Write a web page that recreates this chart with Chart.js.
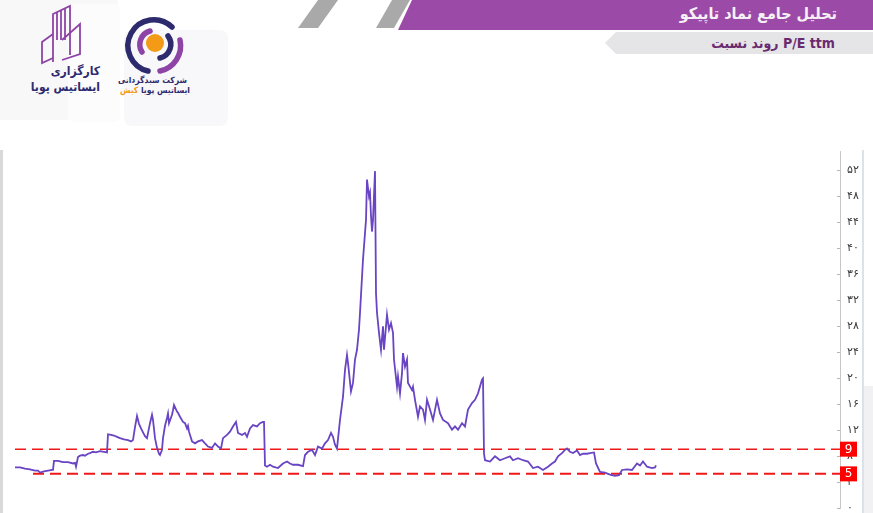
<!DOCTYPE html>
<html lang="fa">
<head>
<meta charset="utf-8">
<title>P/E ttm</title>
<script src="https://cdn.jsdelivr.net/npm/chart.js@4.4.1/dist/chart.umd.min.js"></script>
<style>
  html, body { margin: 0; padding: 0; background: #fff; }
  body {
    width: 873px; height: 513px; overflow: hidden; position: relative;
    font-family: "DejaVu Sans", sans-serif;
  }
  #chartBox { position: absolute; left: 0; top: 0; width: 873px; height: 530px; }
  .layer { position: absolute; left: 0; top: 0; }
  .head { position: absolute; white-space: nowrap; font-weight: bold; font-family: "DejaVu Sans Condensed", "DejaVu Sans", sans-serif; }
  #title { right: 36px; top: 4px; font-size: 16px; color: #f6f0f7; direction: rtl; }
  #subtitle { right: 38px; top: 35px; font-size: 14px; color: #6a2a70; direction: ltr; }
  .logoText { position: absolute; direction: rtl; white-space: nowrap; font-weight: bold; color: #2d2b6e; font-family: "DejaVu Sans Condensed", "DejaVu Sans", sans-serif; }
</style>
</head>
<body>

<!-- background cards + header shapes -->
<svg class="layer" width="873" height="513">
  <rect x="-10" y="-10" width="128" height="130" rx="8" fill="#f8f8f9"/>
  <rect x="68" y="4" width="52" height="118" rx="6" fill="#fcfcfd"/>
  <rect x="124" y="30" width="104" height="96" rx="8" fill="#f8f8fa"/>
  <rect x="0" y="150" width="3" height="363" fill="#d9d9d9"/>
  <rect x="862" y="150" width="2" height="363" fill="#dde2ea"/>
  <rect x="864" y="386" width="9" height="127" fill="#f1f1f3"/>
  <!-- grey slants -->
  <polygon points="318,0 338,0 318,28 298,28" fill="#a9a9a9"/>
  <polygon points="392,0 410,0 394,28 376,28" fill="#a9a9a9"/>
  <!-- purple title bar -->
  <polygon points="412,0 873,0 873,30 398,30" fill="#9b4aa7"/>
  <!-- grey subtitle banner -->
  <polygon points="616,32 873,32 873,54 616,54 605,43" fill="#e5e5e7"/>

  <!-- left logo: building outline -->
  <g fill="none" stroke="#8e44a6" stroke-width="1.8">
    <polyline points="53,62 53,14 70,6 70,55"/>
    <line x1="57" y1="12" x2="57" y2="40"/>
    <line x1="61" y1="10" x2="61" y2="40"/>
    <line x1="65" y1="8" x2="65" y2="40"/>
    <polyline points="53,34 42,42 42,63 53,58"/>
    <polyline points="62,40 80,24 80,54 62,60"/>
  </g>
  <!-- right logo: ring with orange dot -->
  <g fill="none" stroke-width="5.5" stroke-linecap="round">
    <path d="M 172 27 A 26 26 0 1 0 148 71" stroke="#2d2b6e"/>
    <path d="M 180 40 A 26 26 0 0 1 160 71" stroke="#8e44a6"/>
    <path d="M 142 52 A 14 14 0 0 1 150 31" stroke="#8e44a6"/>
    <path d="M 168 36 A 14 14 0 0 1 160 58" stroke="#2d2b6e"/>
  </g>
  <circle cx="155" cy="43" r="9" fill="#f39a16"/>
</svg>

<div id="title" class="head">تحلیل جامع نماد تاپیکو</div>
<div id="subtitle" class="head">روند نسبت P/E ttm</div>

<div class="logoText" style="right:773px; top:64px; font-size:12px;">کارگزاری</div>
<div class="logoText" style="right:773px; top:80px; font-size:12px;">ایساتیس پویا</div>
<div class="logoText" style="right:686px; top:75px; font-size:8.5px;">شرکت سبدگردانی</div>
<div class="logoText" style="right:683px; top:85px; font-size:8.5px;">ایساتیس پویا <span style="color:#f39a16">کیش</span></div>

<div id="chartBox"><canvas id="peChart" width="873" height="530"></canvas></div>

<script>
// ---------------------------------------------------------------------------
// Data (x = trading-day index, y = P/E ttm)
// ---------------------------------------------------------------------------
const days = [
  0, 5, 10, 15, 20, 23, 25, 29, 33, 37,
  38, 39, 43, 48, 53, 58, 60, 61, 63, 65,
  68, 70, 73, 75, 78, 81, 85, 89, 92, 93,
  96, 99, 102, 105, 109, 113, 116, 118, 120, 122,
  124, 126, 128, 130, 132, 135, 137, 138, 140, 142,
  144, 145, 147, 148, 150, 152, 153, 154, 157, 158,
  159, 162, 163, 165, 168, 170, 172, 173, 174, 177,
  180, 183, 187, 190, 193, 197, 200, 203, 206, 208,
  212, 215, 218, 221, 223, 227, 230, 232, 235, 238,
  242, 245, 248, 249, 250, 252, 255, 258, 263, 268,
  272, 275, 278, 283, 288, 290, 293, 297, 300, 303,
  307, 310, 313, 316, 318, 320, 322, 325, 328, 330,
  332, 333, 336, 338, 340, 342, 344, 345, 348, 351,
  352, 354, 355, 356, 357, 358, 360, 361, 362, 364,
  366, 368, 369, 371, 372, 374, 376, 378, 379, 382,
  383, 385, 387, 388, 390, 392, 393, 397, 398, 400,
  403, 405, 408, 410, 412, 415, 418, 422, 425, 428,
  433, 437, 440, 443, 447, 450, 453, 457, 460, 463,
  467, 468, 469, 470, 475, 480, 485, 490, 495, 498,
  503, 508, 513, 518, 523, 528, 533, 537, 540, 543,
  547, 550, 552, 555, 558, 562, 565, 568, 572, 575,
  579, 581, 585, 590, 595, 600, 604, 607, 612, 617,
  622, 625, 628, 632, 637, 640, 641
];

const peTtm = [
  6.3, 6.3, 6.1, 6.0, 5.8, 5.8, 5.5, 5.7, 5.8, 5.9,
  5.9, 7.3, 7.3, 7.1, 7.1, 6.9, 7.0, 6.4, 7.9, 8.1,
  8.2, 8.1, 8.4, 8.5, 8.7, 8.6, 8.8, 8.7, 8.6, 11.4,
  11.3, 11.2, 11.0, 10.8, 10.6, 10.5, 10.3, 10.5, 12.5, 14.2,
  13.0, 12.3, 11.7, 11.1, 10.8, 13.1, 14.4, 13.6, 10.8, 9.3,
  8.4, 8.2, 9.0, 10.8, 12.7, 13.9, 14.6, 13.1, 14.4, 15.1,
  15.9, 14.9, 14.7, 14.1, 13.3, 13.1, 12.3, 12.7, 11.8, 10.3,
  10.0, 10.3, 10.5, 10.0, 9.5, 9.3, 10.0, 9.5, 9.2, 10.8,
  11.3, 11.8, 12.6, 13.3, 11.6, 11.3, 11.6, 11.0, 12.3, 12.8,
  12.6, 13.1, 13.3, 13.3, 6.6, 6.4, 6.7, 6.4, 6.2, 6.9,
  7.2, 6.9, 6.7, 6.7, 6.5, 8.2, 8.7, 9.0, 8.2, 9.5,
  9.2, 10.0, 10.5, 11.6, 11.0, 9.8, 9.2, 13.6, 17.2, 21.3,
  23.6, 22.4, 18.0, 19.3, 22.9, 24.4, 27.5, 30.1, 38.3, 44.4,
  50.6, 48.0, 48.6, 45.0, 42.6, 44.4, 51.9, 33.1, 30.1, 27.0,
  24.4, 28.0, 24.4, 28.0, 29.8, 27.5, 28.5, 27.0, 22.9, 18.7,
  20.3, 17.7, 20.8, 23.9, 21.8, 22.9, 19.3, 18.2, 18.7, 16.7,
  14.1, 15.7, 15.2, 13.6, 16.7, 15.2, 13.6, 16.7, 14.6, 13.6,
  13.1, 12.1, 12.6, 12.1, 13.1, 12.6, 15.2, 16.2, 16.7, 17.7,
  19.8, 20.0, 8.4, 7.4, 7.2, 8.0, 7.4, 7.7, 8.0, 7.4,
  7.7, 7.4, 7.2, 6.2, 6.4, 5.9, 6.4, 6.9, 7.2, 8.0,
  8.5, 9.0, 9.2, 8.7, 8.5, 8.9, 8.2, 8.4, 8.4, 8.5,
  8.6, 6.9, 5.6, 5.5, 5.2, 5.0, 5.1, 5.9, 6.0, 5.9,
  6.9, 6.6, 7.2, 6.4, 6.2, 6.3, 6.6
];

// y-axis tick values (shown in Persian digits)
const yTicks = [0, 4, 8, 12, 16, 20, 24, 28, 32, 36, 40, 44, 48, 52];

// the two dashed reference levels and the labels in their red boxes
const bandValues = [9.1, 5.3];
const bandLabels = ["9", "5"];
const bandStart  = [0, 18];

const yMax = 55;
const xMax = 825;

// ---------------------------------------------------------------------------
// Helpers
// ---------------------------------------------------------------------------
function toPersianDigits(text) {
  return String(text).replace(/\d/g, (d) => "۰۱۲۳۴۵۶۷۸۹"[d]);
}

// small tick marks inside the axis + red value boxes on the axis
const axisExtras = {
  id: "axisExtras",
  afterDraw(chart) {
    const ctx = chart.ctx;
    const y = chart.scales.y;
    const right = chart.chartArea.right;

    ctx.save();
    ctx.strokeStyle = "#b5b5b5";
    ctx.lineWidth = 1;
    y.ticks.forEach((t) => {
      const py = Math.round(y.getPixelForValue(t.value)) + 0.5;
      ctx.beginPath();
      ctx.moveTo(right - 3, py);
      ctx.lineTo(right, py);
      ctx.stroke();
    });

    bandValues.forEach((v, i) => {
      const py = y.getPixelForValue(v);
      ctx.fillStyle = "#ff0000";
      ctx.fillRect(right, py - 7.5, 17, 15);
      ctx.fillStyle = "#ffffff";
      ctx.font = "12px 'DejaVu Sans'";
      ctx.textAlign = "center";
      ctx.textBaseline = "middle";
      ctx.fillText(bandLabels[i], right + 8.5, py + 0.5);
    });
    ctx.restore();
  },
};

// ---------------------------------------------------------------------------
// Chart
// ---------------------------------------------------------------------------
const lineData = days.map((d, i) => ({ x: d, y: peTtm[i] }));

const bandSets = bandValues.map((v, i) => ({
  data: [{ x: bandStart[i], y: v }, { x: xMax, y: v }],
  borderColor: "#f01818",
  borderWidth: i === 0 ? 1.5 : 2,
  borderDash: [11, 6],
  pointRadius: 0,
}));

new Chart(document.getElementById("peChart"), {
  type: "line",
  data: {
    datasets: [
      {
        data: lineData,
        borderColor: "#6944c3",
        borderWidth: 1.8,
        pointRadius: 0,
        tension: 0,
      },
      ...bandSets,
    ],
  },
  options: {
    responsive: false,
    animation: false,
    devicePixelRatio: 1,
    layout: { padding: { left: 15, right: 0, top: 151, bottom: 21.7 } },
    plugins: { legend: { display: false }, tooltip: { enabled: false } },
    scales: {
      x: { type: "linear", min: 0, max: xMax, display: false },
      y: {
        position: "right",
        min: 0,
        max: yMax,
        afterBuildTicks(scale) {
          scale.ticks = yTicks.map((v) => ({ value: v }));
        },
        afterFit(scale) {
          scale.width = 33;
        },
        grid: { display: true, drawOnChartArea: false, drawTicks: false },
        border: { display: true, color: "#c6c6c6", width: 1 },
        ticks: {
          padding: 7,
          color: "#3a3a3a",
          font: { family: "DejaVu Sans", size: 11 },
          callback: (v) => toPersianDigits(v),
        },
      },
    },
  },
  plugins: [axisExtras],
});
</script>
</body>
</html>
